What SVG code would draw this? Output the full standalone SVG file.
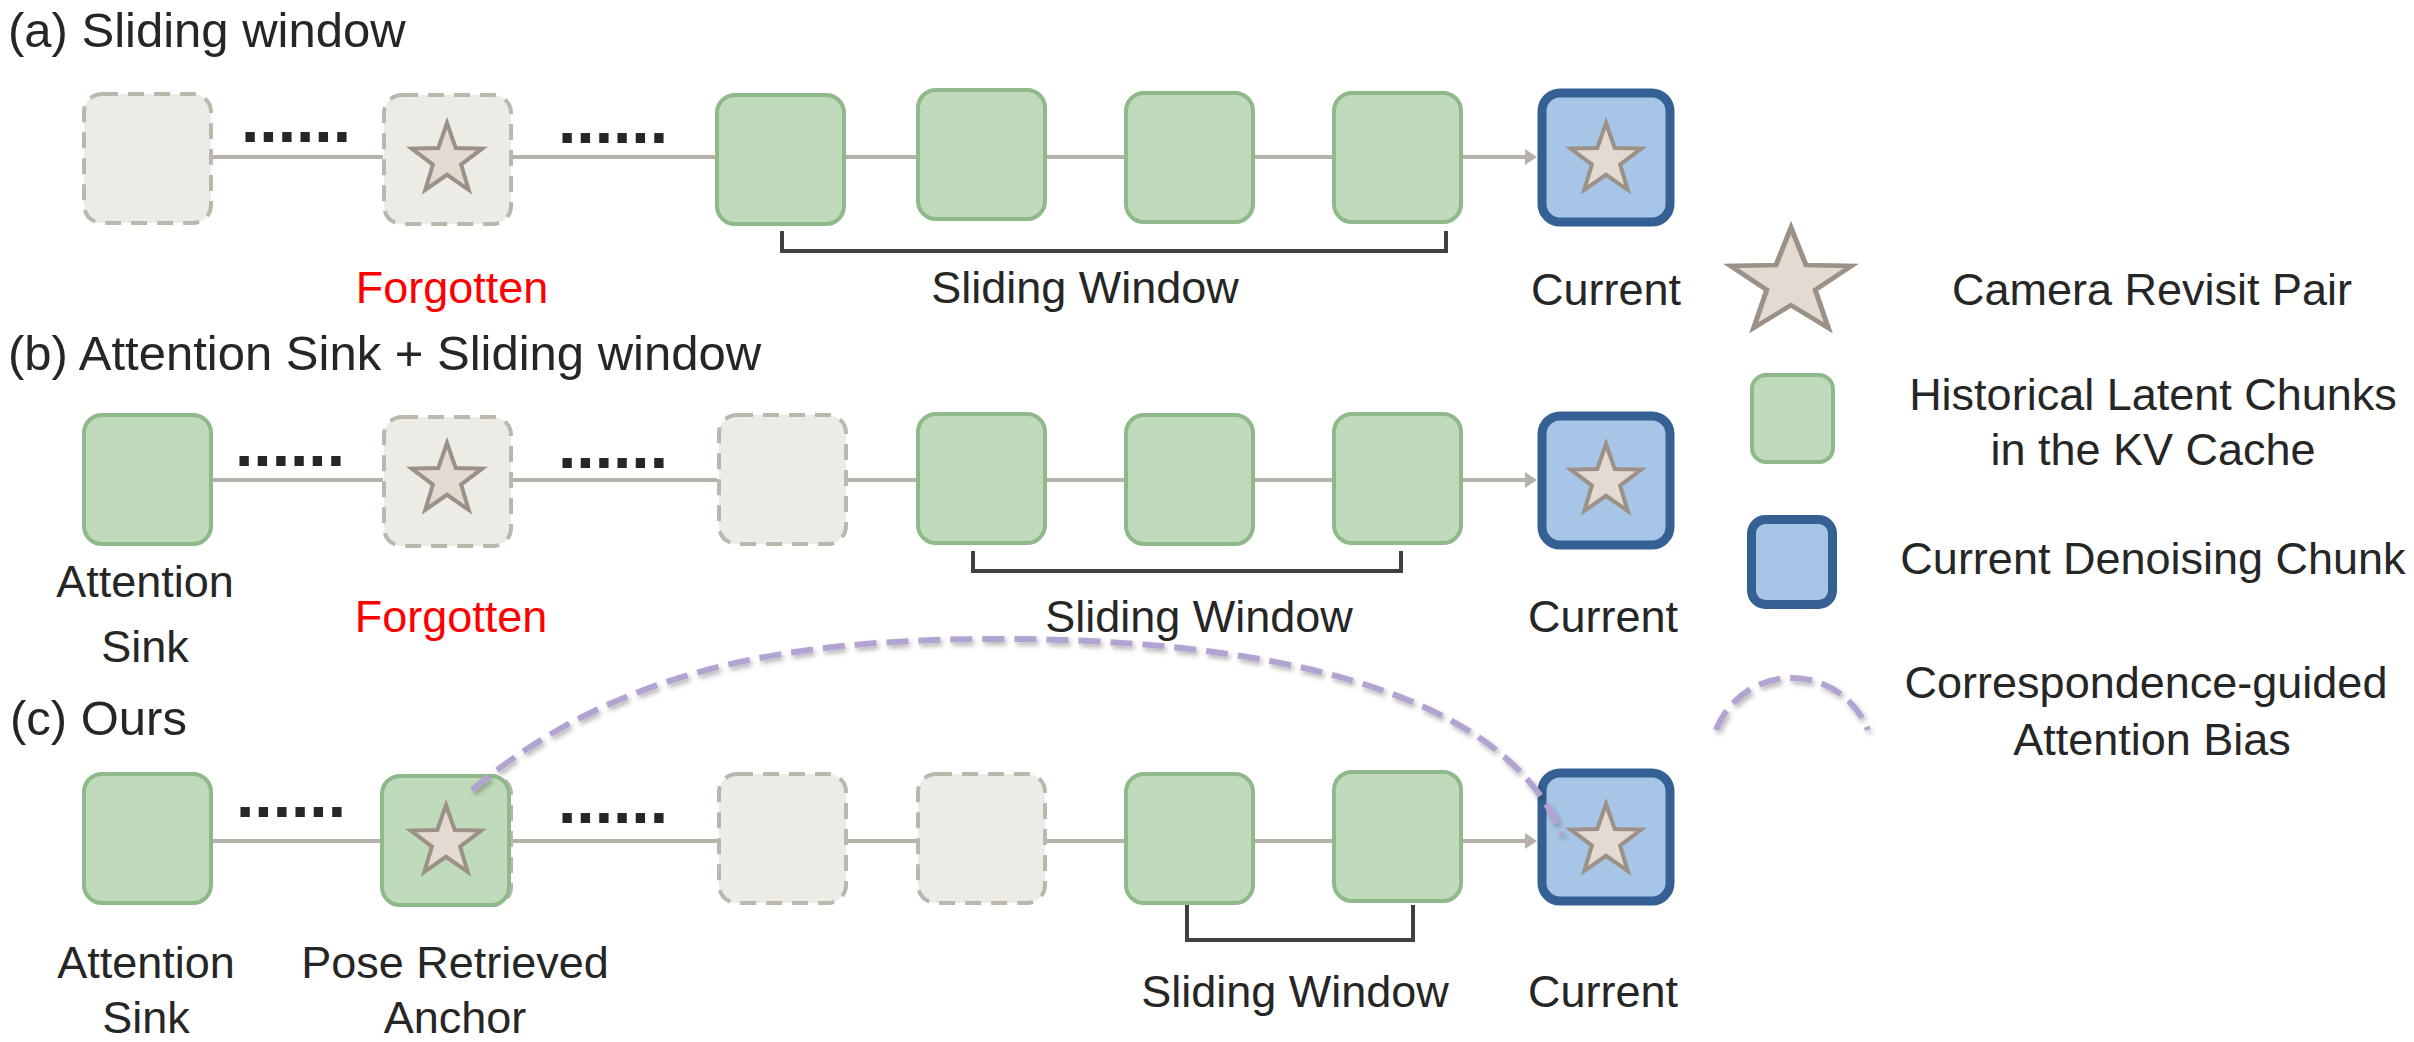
<svg xmlns="http://www.w3.org/2000/svg" width="2414" height="1042" viewBox="0 0 2414 1042">
<style>
.t{font-family:"Liberation Sans",Arial,sans-serif;font-size:45px;fill:#262626;text-anchor:middle}
.title{font-family:"Liberation Sans",Arial,sans-serif;font-size:49px;fill:#262626}
.red{fill:#ff0000}
.dots{font-family:"Liberation Sans",Arial,sans-serif;font-size:66px;font-weight:bold;fill:#262626;text-anchor:middle}
.g{fill:#c0dbbb;stroke:#8fb98b;stroke-width:4}
.d{fill:#edebe5;stroke:#bcb7ad;stroke-width:4;stroke-dasharray:16 10}
.c{fill:#a7c5e7;stroke:#356093;stroke-width:9}
.star{fill:#e5dad2;stroke:#9b9187;stroke-width:4;stroke-linejoin:miter}
.ln{stroke:#b6b2a9;stroke-width:4;fill:none}
.br{stroke:#404040;stroke-width:4;fill:none}
.arc{stroke:#b3a3d1;stroke-width:6;fill:none;stroke-dasharray:22 10}
</style>
<defs>
<path id="st" d="M0,-37 L8.7,-12 L35.2,-11.4 L14.1,4.6 L21.7,29.9 L0,14.8 L-21.7,29.9 L-14.1,4.6 L-35.2,-11.4 L-8.7,-12 Z"/>
<marker id="ah" markerUnits="userSpaceOnUse" markerWidth="13" markerHeight="18" refX="0" refY="8" orient="auto">
<path d="M0,0 L12,8 L0,16 Z" fill="#b6b2a9"/>
</marker>
<filter id="sh" x="-10%" y="-30%" width="120%" height="160%">
<feDropShadow dx="2" dy="3" stdDeviation="2.5" flood-color="#000" flood-opacity="0.3"/>
</filter>
</defs>

<!-- titles -->
<text class="title" x="8" y="47">(a) Sliding window</text>
<text class="title" x="8" y="370">(b) Attention Sink + Sliding window</text>
<text class="title" x="10" y="735">(c) Ours</text>

<!-- connectors -->
<g id="connectors">
<line class="ln" x1="212" y1="157" x2="383" y2="157"/>
<line class="ln" x1="513" y1="157" x2="715" y2="157"/>
<line class="ln" x1="846" y1="157" x2="916" y2="157"/>
<line class="ln" x1="1045" y1="157" x2="1124" y2="157"/>
<line class="ln" x1="1254" y1="157" x2="1333" y2="157"/>
<line class="ln" x1="1462" y1="157" x2="1525" y2="157" marker-end="url(#ah)"/>

<line class="ln" x1="212" y1="480" x2="383" y2="480"/>
<line class="ln" x1="513" y1="480" x2="717" y2="480"/>
<line class="ln" x1="846" y1="480" x2="916" y2="480"/>
<line class="ln" x1="1045" y1="480" x2="1124" y2="480"/>
<line class="ln" x1="1254" y1="480" x2="1333" y2="480"/>
<line class="ln" x1="1462" y1="480" x2="1525" y2="480" marker-end="url(#ah)"/>

<line class="ln" x1="212" y1="841" x2="381" y2="841"/>
<line class="ln" x1="511" y1="841" x2="717" y2="841"/>
<line class="ln" x1="846" y1="841" x2="916" y2="841"/>
<line class="ln" x1="1045" y1="841" x2="1124" y2="841"/>
<line class="ln" x1="1254" y1="841" x2="1333" y2="841"/>
<line class="ln" x1="1462" y1="841" x2="1525" y2="841" marker-end="url(#ah)"/>

<path class="br" d="M782,231 V251 H1446 V231"/>
<path class="br" d="M973,551 V571 H1401 V551"/>
<path class="br" d="M1187,905 V940 H1413 V905"/>
</g>

<!-- row a -->
<g id="a1"><rect class="d" x="84" y="94" width="127" height="129" rx="18"/></g>
<text class="dots" x="296" y="142">......</text>
<g id="a2"><rect class="d" x="384" y="95" width="127" height="129" rx="18"/><use href="#st" class="star" x="447" y="160"/></g>
<text class="dots" x="613" y="143">......</text>
<g id="a3"><rect class="g" x="717" y="95" width="127" height="129" rx="18"/></g>
<g id="a4"><rect class="g" x="918" y="90" width="127" height="129" rx="18"/></g>
<g id="a5"><rect class="g" x="1126" y="93" width="127" height="129" rx="18"/></g>
<g id="a6"><rect class="g" x="1334" y="93" width="127" height="129" rx="18"/></g>
<g id="a7"><rect class="c" x="1542" y="93" width="128" height="129" rx="18"/><use href="#st" class="star" x="1606" y="160"/></g>
<text class="t red" x="452" y="303">Forgotten</text>
<text class="t" x="1085" y="303">Sliding Window</text>
<text class="t" x="1606" y="305">Current</text>

<!-- row b -->
<g id="b1"><rect class="g" x="84" y="415" width="127" height="129" rx="18"/></g>
<text class="dots" x="290" y="466">......</text>
<g id="b2"><rect class="d" x="384" y="417" width="127" height="129" rx="18"/><use href="#st" class="star" x="447" y="480"/></g>
<text class="dots" x="613" y="468">......</text>
<g id="b3"><rect class="d" x="719" y="415" width="127" height="129" rx="18"/></g>
<g id="b4"><rect class="g" x="918" y="414" width="127" height="129" rx="18"/></g>
<g id="b5"><rect class="g" x="1126" y="415" width="127" height="129" rx="18"/></g>
<g id="b6"><rect class="g" x="1334" y="414" width="127" height="129" rx="18"/></g>
<g id="b7"><rect class="c" x="1542" y="416" width="128" height="129" rx="18"/><use href="#st" class="star" x="1606" y="481"/></g>
<text class="t" x="145" y="597">Attention</text>
<text class="t" x="145" y="662">Sink</text>
<text class="t red" x="451" y="632">Forgotten</text>
<text class="t" x="1199" y="632">Sliding Window</text>
<text class="t" x="1603" y="632">Current</text>

<!-- row c -->
<g id="c1"><rect class="g" x="84" y="774" width="127" height="129" rx="18"/></g>
<text class="dots" x="291" y="817">......</text>
<g id="c2"><rect class="d" x="384" y="776" width="127" height="129" rx="18"/><rect class="g" x="382" y="776" width="127" height="129" rx="18"/><use href="#st" class="star" x="446" y="842"/></g>
<text class="dots" x="613" y="823">......</text>
<g id="c3"><rect class="d" x="719" y="774" width="127" height="129" rx="18"/></g>
<g id="c4"><rect class="d" x="918" y="774" width="127" height="129" rx="18"/></g>
<g id="c5"><rect class="g" x="1126" y="774" width="127" height="129" rx="18"/></g>
<g id="c6"><rect class="g" x="1334" y="772" width="127" height="129" rx="18"/></g>
<g id="c7"><rect class="c" x="1542" y="773" width="128" height="128" rx="18"/><use href="#st" class="star" x="1606" y="841"/></g>
<text class="t" x="146" y="978">Attention</text>
<text class="t" x="146" y="1033">Sink</text>
<text class="t" x="455" y="978">Pose Retrieved</text>
<text class="t" x="455" y="1033">Anchor</text>
<text class="t" x="1295" y="1007">Sliding Window</text>
<text class="t" x="1603" y="1007">Current</text>

<!-- attention bias arc -->
<g id="bias-arc" filter="url(#sh)">
<path class="arc" d="M472,790 C622,664 800,639 1001,639 C1251,639 1502,685 1562,835"/>
</g>

<!-- legend -->
<g id="legend-star">
<use href="#st" class="star" transform="translate(1791,283) scale(1.72,1.5)" style="stroke-width:3"/>
<text class="t" x="2152" y="305">Camera Revisit Pair</text>
</g>
<g id="legend-hist">
<rect class="g" x="1752" y="375" width="81" height="87" rx="14"/>
<text class="t" x="2153" y="410">Historical Latent Chunks</text>
<text class="t" x="2153" y="465">in the KV Cache</text>
</g>
<g id="legend-cur">
<rect class="c" x="1751.5" y="519.5" width="81" height="85" rx="14"/>
<text class="t" x="2153" y="574">Current Denoising Chunk</text>
</g>
<g id="legend-arc">
<path class="arc" filter="url(#sh)" d="M1716,730 A81.5,81.5 0 0 1 1868,730"/>
<text class="t" x="2146" y="698">Correspondence-guided</text>
<text class="t" x="2152" y="755">Attention Bias</text>
</g>
</svg>
